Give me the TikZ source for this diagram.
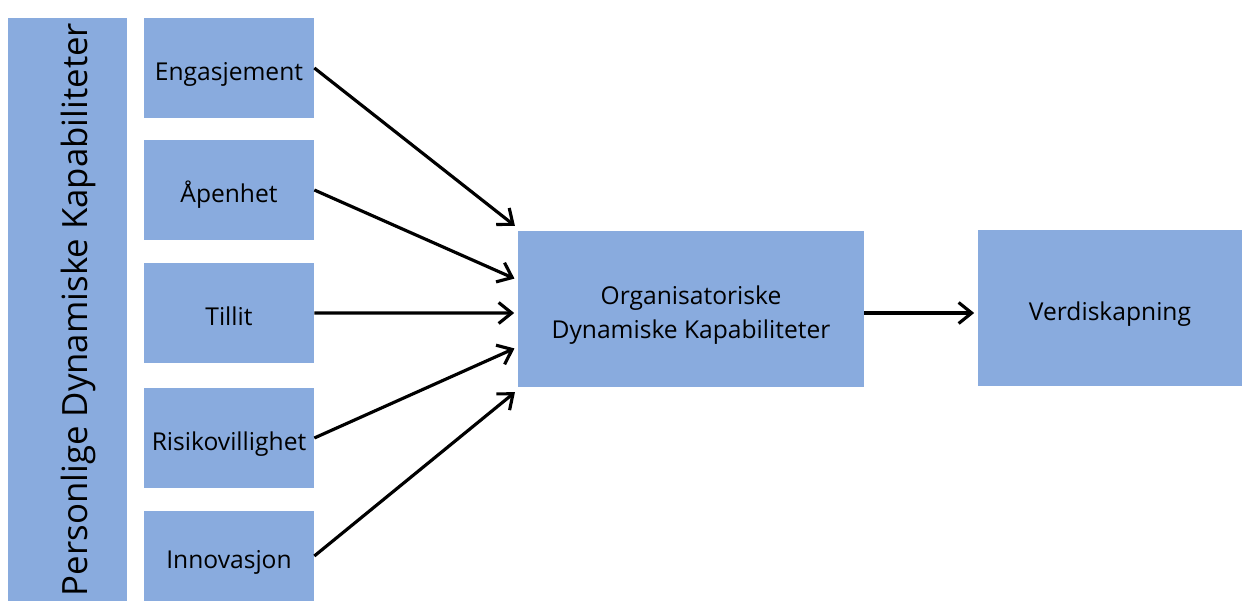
\documentclass[tikz,border=0pt]{standalone}
\usepackage{fontspec}
\setmainfont{Open Sans}
\usetikzlibrary{arrows.meta,positioning,calc}
\definecolor{boxblue}{HTML}{89ABDE}

\begin{document}
\begin{tikzpicture}[
    x=0.02cm, y=-0.02cm,
    font=\fontsize{14}{19.4}\selectfont,
    field/.style={fill=boxblue, minimum width=3.4cm, minimum height=2cm, align=center, inner sep=0pt, text height=17.2pt, text depth=3.2pt},
    link/.style={-{Straight Barb[length=2.6mm,width=4.2mm]}, line width=1.8pt, shorten >=2pt}
]
\useasboundingbox (0,0) rectangle (1242,601);

\node[fill=boxblue, rotate=90, minimum width=11.66cm, minimum height=2.38cm, inner sep=0pt,
      font=\fontsize{19.8}{24}\selectfont, text height=22.2pt, text depth=0pt] (pers) at (67.5,309.5) {Personlige Dynamiske Kapabiliteter};

\node[field] (eng) at (229,68) {Engasjement};
\node[field] (apen) at (229,190) {Åpenhet};
\node[field] (till) at (229,313) {Tillit};
\node[field] (risk) at (229,438) {Risikovillighet};
\node[field, minimum height=1.8cm] (inno) at (229,556) {Innovasjon};

\node[field, minimum width=6.92cm, minimum height=3.12cm, text height=38pt, text depth=4pt] (org) at (691,309) {Organisatoriske\\Dynamiske Kapabiliteter};
\node[field, minimum width=5.28cm, minimum height=3.12cm] (verdi) at (1110,308) {Verdiskapning};

\foreach \src/\dy in {eng/1.62cm, apen/0.58cm, till/-0.08cm, risk/-0.76cm, inno/-1.62cm}
  \draw[link] (\src.east) -- ([yshift=\dy]org.west);
\draw[link] ([yshift=-0.08cm]org.east) -- ([yshift=-0.08cm]org.east -| verdi.west);
\end{tikzpicture}
\end{document}
